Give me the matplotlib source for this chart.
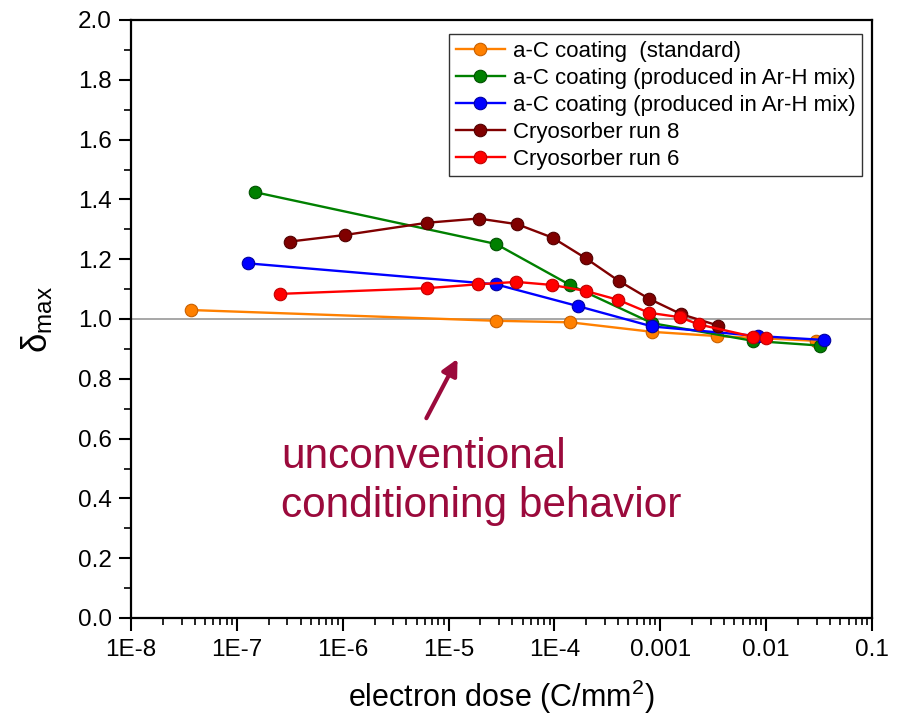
import matplotlib
matplotlib.use("Agg")
import matplotlib.pyplot as plt
from matplotlib.ticker import LogLocator, MultipleLocator, FixedLocator, FixedFormatter, NullFormatter

plt.rcParams['font.family'] = ['Liberation Sans', 'DejaVu Sans']
plt.rcParams['mathtext.fontset'] = 'custom'
plt.rcParams['mathtext.rm'] = 'Liberation Sans'
plt.rcParams['mathtext.it'] = 'Liberation Sans'

# ---- data ----
std_x = [3.7e-8, 2.8e-5, 1.4e-4, 8.4e-4, 3.4e-3, 0.0294]
std_y = [1.030, 0.994, 0.989, 0.957, 0.943, 0.927]

arh1_x = [1.49e-7, 2.8e-5, 1.4e-4, 8.4e-4, 7.5e-3, 0.0326]
arh1_y = [1.424, 1.251, 1.114, 0.986, 0.927, 0.911]

arh2_x = [1.28e-7, 2.8e-5, 1.67e-4, 8.4e-4, 8.4e-3, 0.035]
arh2_y = [1.186, 1.116, 1.043, 0.975, 0.943, 0.930]

run8_x = [3.17e-7, 1.05e-6, 6.3e-6, 1.92e-5, 4.45e-5, 9.6e-5, 1.98e-4, 4.03e-4, 7.8e-4, 1.58e-3, 3.52e-3]
run8_y = [1.259, 1.281, 1.322, 1.336, 1.317, 1.272, 1.203, 1.128, 1.068, 1.016, 0.978]

run6_x = [2.55e-7, 6.2e-6, 1.88e-5, 4.38e-5, 9.4e-5, 1.97e-4, 4.0e-4, 7.8e-4, 1.53e-3, 2.3e-3, 7.5e-3, 9.9e-3]
run6_y = [1.084, 1.103, 1.116, 1.124, 1.114, 1.094, 1.064, 1.021, 1.006, 0.982, 0.941, 0.937]

labels = ["a-C coating  (standard)",
          "a-C coating (produced in Ar-H mix)",
          "a-C coating (produced in Ar-H mix)",
          "Cryosorber run 8",
          "Cryosorber run 6"]
colors = ["#FF8000", "#008000", "#0000FF", "#800000", "#FF0000"]
edges = ["#C86000", "#005000", "#0000A0", "#500000", "#C00000"]

xticks = [1e-8, 1e-7, 1e-6, 1e-5, 1e-4, 1e-3, 1e-2, 1e-1]
xticklabels = ["1E-8", "1E-7", "1E-6", "1E-5", "1E-4", "0.001", "0.01", "0.1"]

fig = plt.figure(figsize=(9.01, 7.14), dpi=100)
ax = fig.add_axes([131/901, 96/714, 741/901, 598/714])

ax.axhline(1.0, color="#a0a0a0", lw=1.3, zorder=1)

series = [(std_x, std_y), (arh1_x, arh1_y), (arh2_x, arh2_y), (run8_x, run8_y), (run6_x, run6_y)]
for (xs, ys), lab, c, ec in zip(series, labels, colors, edges):
    ax.plot(xs, ys, '-o', color=c, lw=1.7, ms=9, mfc=c, mec=ec, mew=0.8, label=lab, zorder=3)

ax.set_xscale('log')
ax.set_xlim(1e-8, 0.1)
ax.set_ylim(0, 2.0)
ax.xaxis.set_major_locator(FixedLocator(xticks))
ax.xaxis.set_major_formatter(FixedFormatter(xticklabels))
ax.xaxis.set_minor_locator(LogLocator(base=10, subs=range(2, 10), numticks=20))
ax.xaxis.set_minor_formatter(NullFormatter())
ax.yaxis.set_major_locator(MultipleLocator(0.2))
ax.yaxis.set_minor_locator(MultipleLocator(0.1))
ax.yaxis.set_major_formatter(plt.FuncFormatter(lambda v, p: f"{v:.1f}"))

ax.tick_params(which='major', direction='out', length=9, width=1.5, labelsize=17.5, top=False, right=False)
ax.tick_params(which='minor', direction='out', length=5, width=1.2, top=False, right=False)
ax.tick_params(axis='x', pad=6)
ax.tick_params(axis='y', pad=5)
for s in ax.spines.values():
    s.set_linewidth(1.6)

ax.set_xlabel("electron dose (C/mm$^{2}$)", fontsize=22, labelpad=12)
ax.set_ylabel(r"$\mathrm{\delta_{max}}$", fontsize=25, labelpad=16)

leg = ax.legend(loc='upper right', bbox_to_anchor=(0.9865, 0.9766), borderaxespad=0,
                fontsize=16, frameon=True, fancybox=False, edgecolor='black',
                handlelength=2.2, handletextpad=0.35, borderpad=0.3, labelspacing=0.27)
leg.get_frame().set_linewidth(1.0)

ann_color = "#9B0A3C"
ax.annotate("", xy=(1.25e-5, 0.875), xytext=(6.0e-6, 0.66),
            arrowprops=dict(arrowstyle='-|>', color=ann_color, lw=3, mutation_scale=24))
ax.text(2.6e-7, 0.503, "unconventional", color=ann_color,
        fontsize=30.5, va='baseline', ha='left')
ax.text(2.6e-7, 0.339, "conditioning behavior", color=ann_color,
        fontsize=30.5, va='baseline', ha='left')

fig.savefig("out.png", dpi=100)
